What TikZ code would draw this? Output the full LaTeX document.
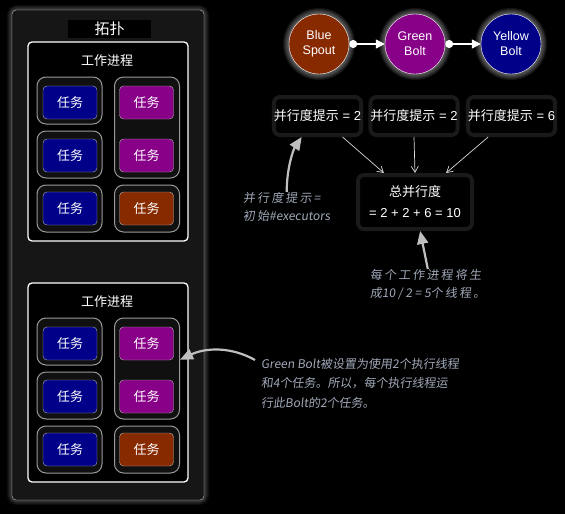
\documentclass[tikz,border=0pt]{standalone}
\usepackage{fontspec}
\setmainfont{Liberation Sans}
\newfontfamily\cjk{Noto Sans CJK SC}
\newfontfamily\notefont[FakeSlant=0.12,LetterSpace=18]{Noto Sans CJK SC}
\newfontfamily\notefontb[FakeSlant=0.12]{Noto Sans CJK SC}
\usetikzlibrary{arrows.meta}
\definecolor{spoutc}{HTML}{882A00}
\definecolor{greenboltc}{HTML}{880088}
\definecolor{yellowboltc}{HTML}{000088}
\definecolor{panelc}{HTML}{161616}
\definecolor{hintc}{HTML}{1A1A1A}
\definecolor{execc}{HTML}{101010}
\definecolor{notec}{HTML}{A0A8B8}
\tikzstyle{boltvertex}=[circle,draw=white,thin,minimum size=60pt,inner sep=0pt,align=center,text=white,font=\fontsize{12.5}{15}\selectfont]
\tikzstyle{taskbox}=[rectangle,rounded corners=4pt,draw=black!30,minimum width=54pt,minimum height=33pt,inner sep=0pt,text=white,font=\cjk\fontsize{13}{15}\selectfont]
\tikzstyle{execbox}=[rectangle,draw=black!40,fill=execc,rounded corners=9pt,line width=1pt,minimum width=65pt,inner sep=0pt]
\tikzstyle{workerbox}=[rectangle,draw=white,fill=black,rounded corners=4pt,line width=1.3pt,minimum width=160pt,minimum height=199pt,inner sep=0pt]
\tikzstyle{label}=[text=white,font=\cjk\fontsize{13}{15}\selectfont]
\tikzstyle{hintbox}=[rectangle,rounded corners=6pt,draw=hintc,line width=4pt,fill=black,inner sep=0pt,text=white,font=\fontsize{13}{15}\selectfont]
\tikzstyle{flow}=[draw,white,line width=1.2pt,{Circle[length=8pt]}-{Triangle[length=9pt,width=9pt]}]
\tikzstyle{edge}=[draw,white!85!black,line width=0.7pt,-{Straight Barb[length=6pt,width=7pt]}]
\tikzstyle{note}=[text=notec,align=left,anchor=north west,inner sep=0pt,font=\notefont\fontsize{12}{18}\selectfont]
\tikzstyle{noteedge}=[draw,black!25,line width=2.2pt,-{Triangle[length=13pt,width=11pt]}]

\begin{document}
\begin{tikzpicture}[x=1pt,y=-1pt]

    \fill[black] (0,0) rectangle (565,514);
    \useasboundingbox (0,0) rectangle (565,514);

    % topology panel
    \foreach \g in {1,...,5}
        \draw[white, opacity=0.05, line width=\g*2pt, rounded corners=5pt] (12,10) rectangle (204,500);
    \node[rectangle, draw=black!25, fill=panelc, rounded corners=4pt, minimum width=192pt, minimum height=490pt] (topo) at (108,255) {};
    \node[label, fill=black, minimum width=83pt, minimum height=18pt, inner sep=0pt, font=\cjk\fontsize{15}{17}\selectfont] (title) at (109.5,29) {拓扑};

    \foreach \dy/\w in {0/a, 241/b} {
        \node[workerbox] (\w-box) at (108, 141.5+\dy) {};
        \node[label] (\w-label) at (107, 61+\dy) {工作进程};
        \foreach \x/\y/\h/\name in {69.5/100.5/47/e1, 69.5/154.5/47/e2, 69.5/208.5/47/e3, 147/127.5/101/e4, 147/208.5/47/e5}
            \node[execbox, minimum height=\h pt] (\w-\name) at (\x, \y+\dy) {};
        \foreach \x/\y/\c/\name in {70/102.5/yellowboltc/t1, 70/155.5/yellowboltc/t2, 70/208.5/yellowboltc/t3, 146.5/102.5/greenboltc/t4, 146.5/155.5/greenboltc/t5, 146.5/208.5/spoutc/t6}
            \node[taskbox, fill=\c] (\w-\name) at (\x, \y+\dy) {任务};
    }

    % bolts
    \foreach \x in {319, 415, 511}
        \foreach \r in {31,...,36}
            \fill[white, opacity=0.07] (\x,44) circle[radius=\r pt];

    \foreach \x/\c/\name/\txt in {319/spoutc/spout/{Blue\\Spout}, 415/greenboltc/green/{Green\\Bolt}, 511/yellowboltc/yellow/{Yellow\\Bolt}}
        \node[boltvertex, fill=\c] (\name) at (\x,44) {\txt};

    \draw[flow] (spout) -- (green);
    \draw[flow] (green) -- (yellow);

    \foreach \x/\name/\n in {317.5/h1/2, 414/h2/2, 511.5/h3/6}
        \node[hintbox, minimum width=81pt, minimum height=38pt] (\name) at (\x,116) {{\cjk 并行度提示} = \n};

    \node[hintbox, minimum width=114pt, minimum height=54pt, align=center] (tot) at (415,202) {{\cjk 总并行度}\\[6pt]= 2 + 2 + 6 = 10};

    \draw[edge] (h1.-40) -- (tot.137);
    \draw[edge] (h2.south) -- (tot.north);
    \draw[edge] (h3.-138) -- (tot.43);

    % notes
    \node[note] (n1) at (243,192) {并行度提示=\\初始{\notefontb\#executors}};
    \node[note] (n2) at (370,269) {每个工作进程将生\\成{\notefontb 10 / 2 = 5}个线程。};
    \node[note, font=\notefontb\fontsize{12}{19.5}\selectfont] (n3) at (261,358) {Green Bolt被设置为使用2个执行线程\\和4个任务。所以，每个执行线程运\\行此Bolt的2个任务。};
    \coordinate (n3-start) at (255,360);

    \draw[noteedge] (n1.north) .. controls +(0,-25) and +(-8,12) .. (h1.-127);
    \draw[noteedge] (n2.north) -- (tot.-80);
    \draw[noteedge] (n3-start) .. controls (230,346) and (205,348) .. (a-e4.15 |- b-e4.15);

\end{tikzpicture}
\end{document}
